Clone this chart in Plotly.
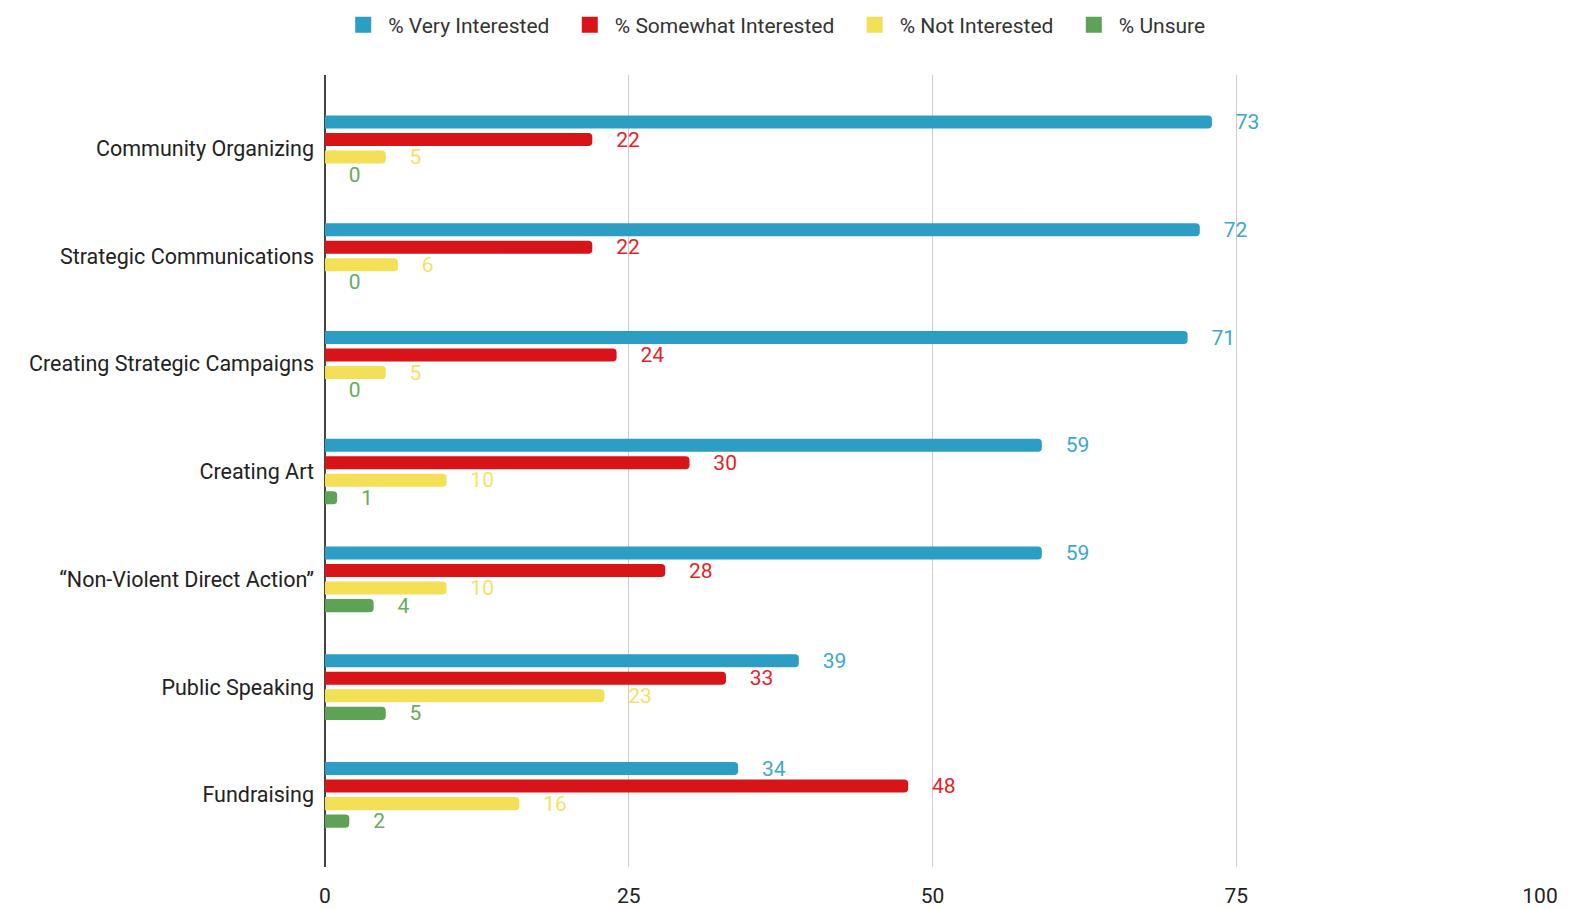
import plotly.graph_objects as go

categories = [
    "Community Organizing",
    "Strategic Communications",
    "Creating Strategic Campaigns",
    "Creating Art",
    "\u201cNon-Violent Direct Action\u201d",
    "Public Speaking",
    "Fundraising",
]
very_interested = [73, 72, 71, 59, 59, 39, 34]
somewhat_interested = [22, 22, 24, 30, 28, 33, 48]
not_interested = [5, 6, 5, 10, 10, 23, 16]
unsure = [0, 0, 0, 1, 4, 5, 2]
x_ticks = [0, 25, 50, 75, 100]

series = [
    ("% Very Interested", very_interested, "#2c9dc3", "#3aa8d0"),
    ("% Somewhat Interested", somewhat_interested, "#d81418", "#e52329"),
    ("% Not Interested", not_interested, "#f3e056", "#f4e267"),
    ("% Unsure", unsure, "#5ea355", "#69ab60"),
]

pad = "\u00a0" * 4
fig = go.Figure()
for name, vals, color, text_color in series:
    fig.add_trace(go.Bar(
        name=name,
        y=categories,
        x=vals,
        orientation="h",
        marker=dict(color=color, line=dict(width=0), cornerradius=4),
        text=[f"{pad}{v}" for v in vals],
        textposition="outside",
        constraintext="none",
        textfont=dict(family="Roboto", size=21, color=text_color),
        cliponaxis=False,
        showlegend=False,
    ))

# Legend entries with larger square swatches
for name, vals, color, text_color in series:
    fig.add_trace(go.Scatter(
        name=name + "\u00a0\u00a0",
        x=[None],
        y=[None],
        mode="markers",
        marker=dict(symbol="square", size=22, color=color),
        showlegend=True,
        hoverinfo="skip",
    ))

fig.update_layout(
    width=1572,
    height=909,
    margin=dict(l=325, r=32, t=75, b=42),
    paper_bgcolor="white",
    plot_bgcolor="white",
    font=dict(family="Roboto", size=21, color="#222222"),
    barmode="group",
    bargap=0.35,
    bargroupgap=0.25,
    legend=dict(
        orientation="h",
        xref="container",
        x=0.496,
        xanchor="center",
        yref="container",
        y=0.995,
        yanchor="top",
        font=dict(family="Roboto", size=21, color="#333333"),
        traceorder="normal",
        itemsizing="trace",
        itemwidth=40,
    ),
    showlegend=True,
)
fig.update_xaxes(
    range=[0, 100],
    tickvals=x_ticks,
    ticktext=[str(t) for t in x_ticks],
    showgrid=True,
    gridcolor="#cccccc",
    gridwidth=1,
    zeroline=True,
    zerolinecolor="#444444",
    zerolinewidth=1.5,
    ticklabelstandoff=14,
    automargin=False,
    tickfont=dict(family="Roboto", size=21, color="#222222"),
    fixedrange=True,
)
fig.update_yaxes(
    categoryorder="array",
    categoryarray=categories,
    range=[6.67, -0.68],
    showgrid=False,
    zeroline=False,
    ticklabelstandoff=10,
    automargin=False,
    tickfont=dict(family="Roboto", size=21.5, color="#222222"),
    fixedrange=True,
)

fig.write_html("out.html")
